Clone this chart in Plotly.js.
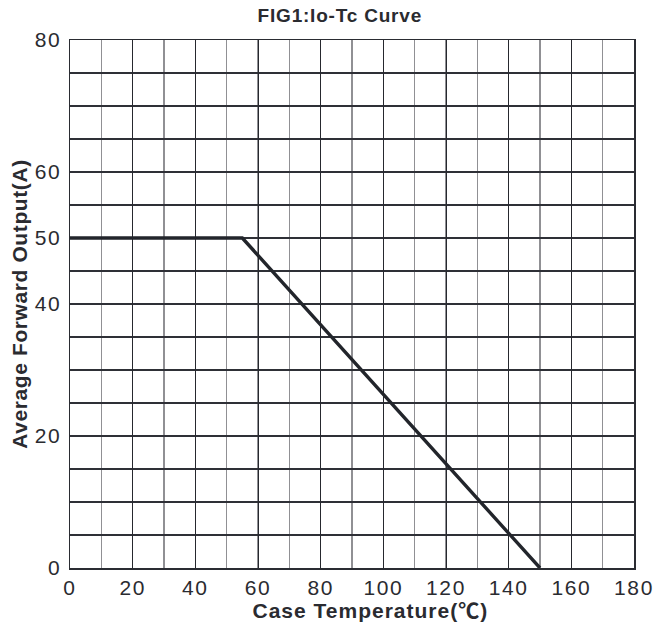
<!DOCTYPE html>
<html>
<head>
<meta charset="utf-8">
<script src="https://cdn.plot.ly/plotly-3.0.1.min.js"></script>
<style>
html,body{margin:0;padding:0;background:#fff;}
#chart{width:656px;height:627px;}
#chart .gtitle{letter-spacing:0.8px;}
#chart .ytitle{letter-spacing:0.6px;}
#chart .annotation-text{letter-spacing:1px;}
#chart .xtick text, #chart .ytick text{letter-spacing:1.6px;}
</style>
</head>
<body>
<div id="chart"></div>
<script>
const caseTemp = [0, 55, 150];
const outputCurrent = [50, 50, 0];
const xTicks = [0, 20, 40, 60, 80, 100, 120, 140, 160, 180];
const yTicks = [0, 20, 40, 50, 60, 80];
const xTitle = '<b>Case Temperature(<span style="font-family:\'Noto Sans CJK SC\'">℃</span>)</b>';
const yTitle = '<b>Average Forward Output(A)</b>';
const chartTitle = '<b>FIG1:Io-Tc Curve</b>';

const trace = {
  x: caseTemp,
  y: outputCurrent,
  mode: 'lines',
  line: {color: '#22252b', width: 3.4},
  hoverinfo: 'skip'
};

const layout = {
  width: 656,
  height: 627,
  margin: {l: 70, r: 22, t: 40, b: 59},
  paper_bgcolor: '#fff',
  plot_bgcolor: '#fff',
  showlegend: false,
  font: {family: 'Liberation Sans, Arial, sans-serif', color: '#2a2b30'},
  title: {
    text: chartTitle,
    font: {size: 19, color: '#2a2b30'},
    x: 0.518, xanchor: 'center', y: 0.975, yanchor: 'middle'
  },
  annotations: [{
    text: xTitle,
    xref: 'paper', yref: 'paper',
    x: 0.532, y: -0.078,
    xanchor: 'center', yanchor: 'middle',
    showarrow: false,
    font: {size: 21, color: '#2a2b30'}
  }],
  xaxis: {
    range: [0, 180],
    tickmode: 'array',
    tickvals: xTicks,
    ticktext: xTicks.map(String),
    showgrid: true,
    gridcolor: '#26282e',
    gridwidth: 1,
    minor: {dtick: 10, tick0: 0, showgrid: true, gridcolor: '#909094', gridwidth: 1.6, ticklen: 0},
    showline: true, mirror: true, linecolor: '#2a2c32', linewidth: 1.5,
    ticks: '', zeroline: false,
    ticklabelstandoff: 0,
    tickfont: {size: 21, color: '#2a2b30'}
  },
  yaxis: {
    range: [0, 80],
    tickmode: 'array',
    tickvals: yTicks,
    ticktext: yTicks.map(String),
    showgrid: false,
    minor: {dtick: 5, tick0: 0, showgrid: true, gridcolor: '#2e3036', gridwidth: 1.1, ticklen: 0},
    showline: true, mirror: true, linecolor: '#2a2c32', linewidth: 1.5,
    ticks: '', zeroline: false,
    ticklabelstandoff: 3,
    tickfont: {size: 21, color: '#2a2b30'},
    title: {text: yTitle, font: {size: 21, color: '#2a2b30'}, standoff: 4}
  }
};

Plotly.newPlot('chart', [trace], layout, {displayModeBar: false, staticPlot: true});
</script>
</body>
</html>
